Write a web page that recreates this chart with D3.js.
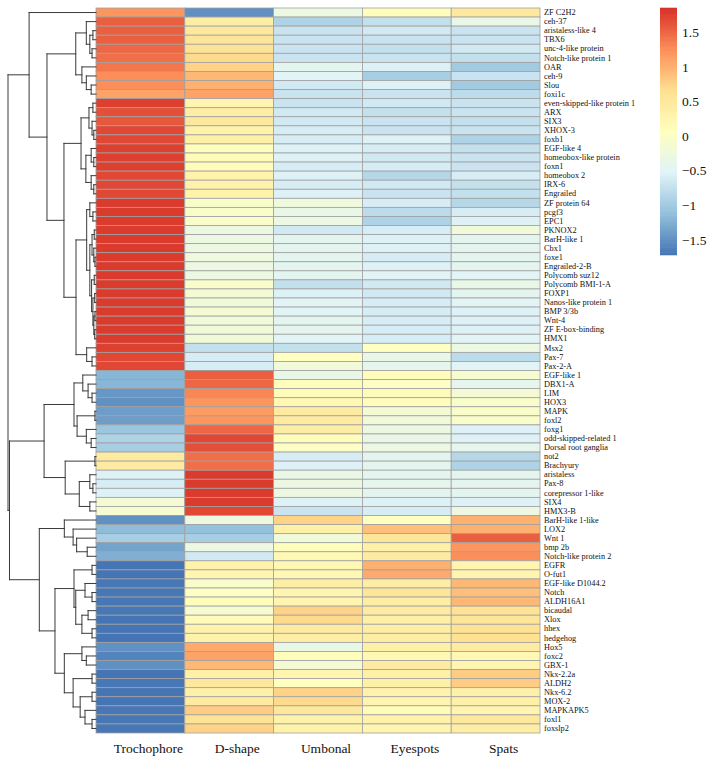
<!DOCTYPE html>
<html>
<head>
<meta charset="utf-8">
<script src="https://cdn.jsdelivr.net/npm/d3@7"></script>
<style>
  html, body { margin: 0; padding: 0; background: #fff; }
  svg { display: block; }
  text { font-family: "Liberation Serif", "DejaVu Serif", serif; fill: #111; }
</style>
</head>
<body>
<svg id="chart" width="713" height="762"></svg>
<script>
// ---------------- data ----------------
const rowLabels = [
  "ZF C2H2","ceh-37","aristaless-like 4","TBX6","unc-4-like protein","Notch-like protein 1","OAR","ceh-9","Slou","foxi1c",
  "even-skipped-like protein 1","ARX","SIX3","XHOX-3","foxb1","EGF-like 4","homeobox-like protein","foxn1","homeobox 2","IRX-6",
  "Engrailed","ZF protein 64","pcgf3","EPC1","PKNOX2","BarH-like 1","Cbx1","foxe1","Engrailed-2-B","Polycomb suz12",
  "Polycomb BMI-1-A","FOXP1","Nanos-like protein 1","BMP 3/3b","Wnt-4","ZF E-box-binding","HMX1","Msx2","Pax-7","Pax-2-A",
  "EGF-like 1","DBX1-A","LIM","HOX3","MAPK","foxl2","foxg1","odd-skipped-related 1","Dorsal root ganglia","not2",
  "Brachyury","aristaless","Pax-8","corepressor 1-like","SIX4","HMX3-B","BarH-like 1-like","LOX2","Wnt 1","bmp 2b",
  "Notch-like protein 2","EGFR","O-fut1","EGF-like D1044.2","Notch","ALDH16A1","bicaudal","Xlox","hhex","hedgehog",
  "Hox5","foxc2","GBX-1","Nkx-2.2a","ALDH2","Nkx-6.2","MOX-2","MAPKAPK5","foxl1","foxslp2"
];
const colLabels = ["Trochophore","D-shape","Umbonal","Eyespots","Spats"];

const trochophore = [
  1.2,1.55,1.55,1.55,1.5,1.45,1.4,1.25,1.25,1.1,
  1.75,1.65,1.6,1.7,1.7,1.75,1.75,1.75,1.7,1.7,
  1.7,1.78,1.78,1.78,1.78,1.78,1.78,1.78,1.78,1.78,
  1.78,1.78,1.78,1.78,1.78,1.78,1.78,1.75,1.7,1.7,
  -1.2,-1.2,-1.45,-1.5,-1.4,-1.4,-1.05,-0.9,-0.95,0.45,
  0.45,-0.55,-0.6,-0.55,-0.15,-0.1,-1.5,-1.15,-0.95,-1.35,
  -1.25,-1.75,-1.75,-1.7,-1.7,-1.7,-1.7,-1.75,-1.75,-1.75,
  -1.5,-1.6,-1.5,-1.75,-1.7,-1.75,-1.75,-1.7,-1.7,-1.7
];
const dShape = [
  -1.5,0.4,0.5,0.55,0.6,0.7,0.75,0.95,1.0,1.1,
  0.25,0.4,0.5,0.3,0.35,0.1,0.15,0.15,0.3,0.3,
  0.3,-0.05,-0.05,-0.05,-0.3,-0.3,-0.3,-0.25,-0.3,-0.3,
  -0.05,-0.15,-0.2,-0.15,-0.2,-0.2,-0.2,-0.75,-0.6,-0.6,
  1.55,1.5,1.3,1.2,1.15,1.2,1.5,1.7,1.65,1.45,
  1.45,1.78,1.78,1.78,1.78,1.7,-0.3,-1.1,-0.95,-0.3,
  -0.65,0.3,0.25,-0.05,0.0,0.1,-0.1,0.15,0.3,0.3,
  1.05,1.1,0.95,0.35,0.5,0.35,0.45,0.8,0.6,0.75
];
const umbonal = [
  -0.3,-0.9,-0.7,-0.7,-0.7,-0.7,-0.45,-0.5,-0.65,-0.7,
  -0.7,-0.65,-0.65,-0.6,-0.6,-0.55,-0.55,-0.6,-0.55,-0.6,
  -0.55,-0.25,-0.35,-0.3,-0.65,-0.45,-0.45,-0.45,-0.45,-0.45,
  -0.75,-0.55,-0.5,-0.5,-0.45,-0.45,-0.5,-0.75,0.05,-0.2,
  -0.35,0.1,0.15,0.2,0.45,0.45,0.4,0.1,0.0,-0.6,
  -0.55,-0.35,-0.3,-0.3,-0.55,-0.7,0.75,0.35,-0.2,0.1,
  0.2,0.2,0.2,0.4,0.25,0.25,0.75,0.7,0.45,0.4,
  -0.35,0.1,-0.15,0.25,0.05,0.75,0.7,0.5,0.3,0.3
];
const eyespots = [
  0.1,-0.75,-0.65,-0.7,-0.75,-0.7,-0.55,-0.95,-0.55,-0.7,
  -0.65,-0.75,-0.7,-0.7,-0.55,-0.6,-0.65,-0.6,-0.85,-0.65,
  -0.7,-0.6,-0.8,-0.9,-0.6,-0.55,-0.55,-0.6,-0.55,-0.5,
  -0.65,-0.65,-0.6,-0.6,-0.6,-0.6,-0.6,0.05,-0.35,-0.4,
  0.1,0.0,0.15,0.1,-0.15,-0.2,-0.3,-0.35,-0.3,-0.45,
  -0.45,-0.45,-0.4,-0.45,-0.55,-0.6,0.05,0.9,0.55,0.35,
  0.45,1.0,1.05,0.4,0.55,0.4,0.45,0.35,0.4,0.4,
  0.35,0.2,0.45,0.35,0.35,0.3,0.25,0.15,0.3,0.25
];
const spats = [
  0.5,-0.35,-0.7,-0.7,-0.65,-0.75,-1.0,-0.7,-1.0,-0.8,
  -0.7,-0.7,-0.75,-0.7,-0.9,-0.75,-0.7,-0.7,-0.6,-0.75,
  -0.75,-0.85,-0.6,-0.55,-0.2,-0.45,-0.45,-0.45,-0.45,-0.5,
  -0.35,-0.45,-0.5,-0.55,-0.55,-0.55,-0.5,-0.3,-0.8,-0.5,
  -0.1,-0.4,-0.15,-0.05,-0.05,-0.05,-0.55,-0.55,-0.4,-0.85,
  -0.9,-0.45,-0.45,-0.45,-0.55,-0.3,1.0,1.0,1.55,1.2,
  1.25,0.25,0.25,0.95,0.9,0.95,0.6,0.55,0.6,0.65,
  0.45,0.2,0.25,0.8,0.8,0.35,0.35,0.25,0.5,0.4
];

const legendTicks = [-1.5, -1, -0.5, 0, 0.5, 1, 1.5];
const colorRange = [-1.72, 1.85];
const palette = ["#4575B4","#91BFDB","#E0F3F8","#FFFFBF","#FEE090","#FC8D59","#D73027"];

// row dendrogram: [mergeHeight, left, right]; numbers are row indices
const rowTree = [10.0,
  [7.6, 0,
    [5.57,
      [2.3,
        [1.1, 1, [0.7, [0.35, 2, 3], [0.45, 4, 5]]],
        [1.6, 6, [1.1, 7, [0.55, 8, 9]]]],
      [3.64,
        [1.7,
          [0.8, [0.35, 10, 11], [0.45, 12, [0.25, 13, 14]]],
          [1.15, [0.55, 15, [0.25, 16, 17]], [0.55, 18, [0.25, 19, 20]]]],
        [2.27,
          [1.06,
            [0.7, 21, [0.35, 22, 23]],
            [0.7,
              [0.45, [0.2, 24, 25], [0.25, 26, [0.12, 27, 28]]],
              [0.5, [0.2, 29, 30], [0.35, [0.15, 31, 32], [0.25, [0.12, 33, 34], [0.15, 35, 36]]]]]],
          [1.06, 37, [0.45, 38, 39]]]]]],
  [9.83,
    [5.9,
      [2.5,
        [1.5, 40, [0.9, 41, [0.45, 42, 43]]],
        [2.15, [0.12, 44, 45], [1.1, 46, [0.55, 47, 48]]]],
      [3.5,
        [0.12, 49, 50],
        [1.9, [0.7, 51, [0.35, 52, 53]], [0.7, 54, 55]]]],
    [6.44,
      [3.6, 56, [2.6, 57, [2.2, 58, [1.0, 59, 60]]]],
      [4.66,
        [2.5, [0.45, 61, 62], [2.3, [1.25, 63, [0.45, 64, 65]], [1.6, [0.9, 66, 67], [0.45, 68, 69]]]],
        [3.6, [1.6, 70, [1.1, 71, 72]], [2.6, [0.45, 73, 74], [1.8, [0.45, 75, 76], [1.25, 77, [0.45, 78, 79]]]]]]]]
];

// ---------------- layout ----------------
const svg = d3.select("#chart");
const series = [trochophore, dShape, umbonal, eyespots, spats];
const cells = [];
rowLabels.forEach((r, i) => series.forEach((s, j) => cells.push({row: i, col: colLabels[j], v: s[i]})));

const x = d3.scaleBand().domain(colLabels).range([96, 540]);
const y = d3.scaleBand().domain(d3.range(rowLabels.length)).range([8, 733]);
const stops = palette.map((_, i) => colorRange[0] + i * (colorRange[1] - colorRange[0]) / (palette.length - 1));
const color = d3.scaleLinear().domain(stops).range(palette).clamp(true);

// heatmap cells
svg.append("g").selectAll("rect").data(cells).join("rect")
  .attr("x", d => x(d.col))
  .attr("y", d => y(d.row))
  .attr("width", x.bandwidth())
  .attr("height", y.bandwidth())
  .attr("fill", d => color(d.v))
  .attr("stroke", "#a0a0a0")
  .attr("stroke-width", 0.8);

// row labels
const rowAxis = svg.append("g")
  .attr("transform", `translate(${x.range()[1]},0)`)
  .call(d3.axisRight(y).tickSize(0).tickPadding(4).tickFormat(i => rowLabels[i]));
rowAxis.select(".domain").remove();
rowAxis.selectAll("text").attr("font-size", 8.3).attr("fill", "#111").style("font-family", "'Liberation Serif', serif");

// column labels
const colAxis = svg.append("g")
  .attr("transform", `translate(8,${y.range()[1]})`)
  .call(d3.axisBottom(x).tickSize(0).tickPadding(10));
colAxis.select(".domain").remove();
colAxis.selectAll("text").attr("font-size", 13.5).attr("fill", "#111").style("font-family", "'Liberation Serif', serif");

// dendrogram
const dx = d3.scaleLinear().domain([0, 10]).range([x.range()[0], 8]);
const root = d3.hierarchy(rowTree, d => Array.isArray(d) ? d.slice(1) : null);
root.eachAfter(n => {
  if (n.children) {
    n.h = n.data[0];
    n.py = d3.mean(n.children, c => c.py);
  } else {
    n.h = 0;
    n.py = y(n.data) + y.bandwidth() / 2;
  }
});
const segs = [];
root.each(n => {
  if (!n.children) return;
  const [a, b] = n.children;
  segs.push([dx(n.h), a.py, dx(n.h), b.py]);
  n.children.forEach(c => segs.push([dx(n.h), c.py, dx(c.h), c.py]));
});
svg.append("g").selectAll("line").data(segs).join("line")
  .attr("x1", d => d[0]).attr("y1", d => d[1])
  .attr("x2", d => d[2]).attr("y2", d => d[3])
  .attr("stroke", "#3a3a3a").attr("stroke-width", 1).attr("stroke-linecap", "square");

// legend
const ly = d3.scaleLinear().domain(colorRange).range([255, 8]);
const nSteps = 100;
const legendVals = d3.range(nSteps).map(i => colorRange[0] + (i + 0.5) * (colorRange[1] - colorRange[0]) / nSteps);
const stepH = (ly.range()[0] - ly.range()[1]) / nSteps;
svg.append("g").selectAll("rect").data(legendVals).join("rect")
  .attr("x", 660).attr("width", 17)
  .attr("y", d => ly(d) - stepH / 2 - 0.3)
  .attr("height", stepH + 0.6)
  .attr("fill", d => color(d));
const legAxis = svg.append("g")
  .attr("transform", "translate(677,0)")
  .call(d3.axisRight(ly).tickValues(legendTicks).tickSize(0).tickPadding(5).tickFormat(d3.format("")));
legAxis.select(".domain").remove();
legAxis.selectAll("text").attr("font-size", 13.5).attr("fill", "#111").style("font-family", "'Liberation Serif', serif");
</script>
</body>
</html>
